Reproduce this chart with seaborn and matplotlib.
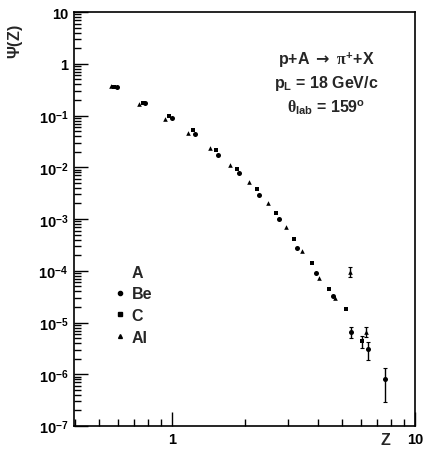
import numpy as np
import pandas as pd
import matplotlib
matplotlib.use('Agg')
import matplotlib.pyplot as plt
import matplotlib.ticker as mticker
from matplotlib.lines import Line2D
import seaborn as sns

# Be (circles)
be_z = [0.594, 0.774, 1.0, 1.243, 1.547, 1.887, 2.28, 2.756, 3.27, 3.913, 4.60, 5.45, 6.41, 7.52]
be_psi = [0.359, 0.176, 0.0903, 0.0443, 0.0174, 7.8e-3, 2.92e-3, 1.0e-3, 2.76e-4, 9.06e-5,
          3.26e-5, 6.55e-6, 3.07e-6, 8.07e-7]
be_err_up = [0, 0, 0, 0, 0, 0, 0, 0, 0, 0, 0, 1.65e-6, 1.13e-6, 5.1e-7]
be_err_dn = [0, 0, 0, 0, 0, 0, 0, 0, 0, 0, 0, 1.55e-6, 1.19e-6, 5.2e-7]

# C (squares)
c_z = [0.577, 0.760, 0.972, 1.220, 1.517, 1.851, 2.238, 2.679, 3.177, 3.768, 4.43, 5.20, 6.05]
c_psi = [0.359, 0.176, 0.0987, 0.0529, 0.0217, 9.3e-3, 3.82e-3, 1.31e-3, 4.12e-4, 1.42e-4,
         4.45e-5, 1.82e-5, 4.39e-6]
c_err_up = [0, 0, 0, 0, 0, 0, 0, 0, 0, 0, 0, 0, 1.1e-6]
c_err_dn = [0, 0, 0, 0, 0, 0, 0, 0, 0, 0, 0, 0, 1.2e-6]

# Al (triangles)
al_z = [0.561, 0.732, 0.936, 1.164, 1.434, 1.733, 2.074, 2.483, 2.945, 3.427, 4.026, 4.69, 5.40, 6.29]
al_psi = [0.375, 0.168, 0.0863, 0.0463, 0.0237, 0.0111, 5.22e-3, 2.05e-3, 7.03e-4, 2.42e-4,
          7.26e-5, 2.98e-5, 9.48e-5, 6.55e-6]
al_err_up = [0, 0, 0, 0, 0, 0, 0, 0, 0, 0, 0, 0, 2.4e-5, 1.65e-6]
al_err_dn = [0, 0, 0, 0, 0, 0, 0, 0, 0, 0, 0, 0, 1.9e-5, 1.3e-6]

y_ticks = [1e-7, 1e-6, 1e-5, 1e-4, 1e-3, 1e-2, 1e-1, 1, 10]
y_labels = [r'$10^{-7}$', r'$10^{-6}$', r'$10^{-5}$', r'$10^{-4}$', r'$10^{-3}$',
            r'$10^{-2}$', r'$10^{-1}$', '1', '10']

series = {
    'Be': (be_z, be_psi, be_err_up, be_err_dn, 'o', 13),
    'C': (c_z, c_psi, c_err_up, c_err_dn, 's', 8.5),
    'Al': (al_z, al_psi, al_err_up, al_err_dn, '^', 11),
}

sns.set_style('ticks')
plt.rcParams['font.family'] = ['Liberation Sans', 'DejaVu Sans']
plt.rcParams['font.weight'] = 'bold'
plt.rcParams['mathtext.fontset'] = 'custom'
plt.rcParams['mathtext.rm'] = 'Liberation Sans:bold'
plt.rcParams['mathtext.bf'] = 'Liberation Sans:bold'
plt.rcParams['mathtext.it'] = 'Liberation Serif'
plt.rcParams['mathtext.sf'] = 'DejaVu Sans'

fig, ax = plt.subplots(figsize=(4.27, 4.52), dpi=100)
fig.subplots_adjust(left=0.1733, right=0.972, bottom=0.0553, top=0.971)

for name, (z, psi, eu, ed, mk, s) in series.items():
    df = pd.DataFrame({'Z': z, 'Psi': psi, 'up': eu, 'dn': ed})
    sns.scatterplot(data=df, x='Z', y='Psi', marker=mk, s=s, color='black',
                    linewidth=0, ax=ax, legend=False, zorder=3)
    e = df[df['up'] > 0]
    ax.errorbar(e['Z'], e['Psi'], yerr=[e['dn'], e['up']], fmt='none',
                ecolor='black', elinewidth=1, capsize=1.4, capthick=0.8)

ax.set_xscale('log')
ax.set_yscale('log')
ax.set_xlim(0.395, 10)
ax.set_ylim(1e-7, 10)

ax.xaxis.set_major_locator(mticker.FixedLocator([1, 10]))
ax.xaxis.set_major_formatter(mticker.FixedFormatter(['1', '10']))
ax.xaxis.set_minor_locator(mticker.LogLocator(base=10, subs=np.arange(2, 10), numticks=20))
ax.xaxis.set_minor_formatter(mticker.NullFormatter())
ax.yaxis.set_major_locator(mticker.FixedLocator(y_ticks))
ax.yaxis.set_major_formatter(mticker.FixedFormatter(y_labels))
ax.yaxis.set_minor_locator(mticker.LogLocator(base=10, subs=np.arange(2, 10), numticks=20))
ax.yaxis.set_minor_formatter(mticker.NullFormatter())

ax.tick_params(which='both', direction='in', top=False, right=False, width=1, colors='black')
ax.tick_params(which='major', length=10, labelsize=10.5, pad=4)
ax.tick_params(which='minor', length=5)
for sp in ax.spines.values():
    sp.set_linewidth(1.2)
    sp.set_color('black')

ax.set_xlabel('Z', fontsize=11.5, fontweight='bold')
ax.xaxis.set_label_coords(0.912, -0.0145)
ax.set_ylabel(r'$\Psi$(Z)', fontsize=11.5, fontweight='bold')
ax.yaxis.set_label_coords(-0.144, 0.932)

kw = dict(transform=ax.transAxes, ha='center', va='center', fontsize=11.5, fontweight='bold')
ax.text(0.739, 0.886, r'p+A $\mathsf{\rightarrow}$ $\pi^{+}$+X', **kw)
ax.text(0.739, 0.829, r'p$_{\mathrm{L}}$ = 18 GeV/c', **kw)
ax.text(0.739, 0.771, r'$\theta_{\mathrm{lab}}$ = 159$^{\mathrm{o}}$', **kw)

handles = [Line2D([], [], linestyle='none', marker='', label='A'),
           Line2D([], [], linestyle='none', marker='o', color='k', markersize=3, label='Be'),
           Line2D([], [], linestyle='none', marker='s', color='k', markersize=2.3, label='C'),
           Line2D([], [], linestyle='none', marker='^', color='k', markersize=2.8, label='Al')]
ax.legend(handles=handles, loc='upper left', bbox_to_anchor=(0.111, 0.39), frameon=False,
          fontsize=11.5, handlelength=1.0, handletextpad=0.25, labelspacing=0.42,
          borderaxespad=0, borderpad=0)

plt.savefig('out.png', dpi=100)
